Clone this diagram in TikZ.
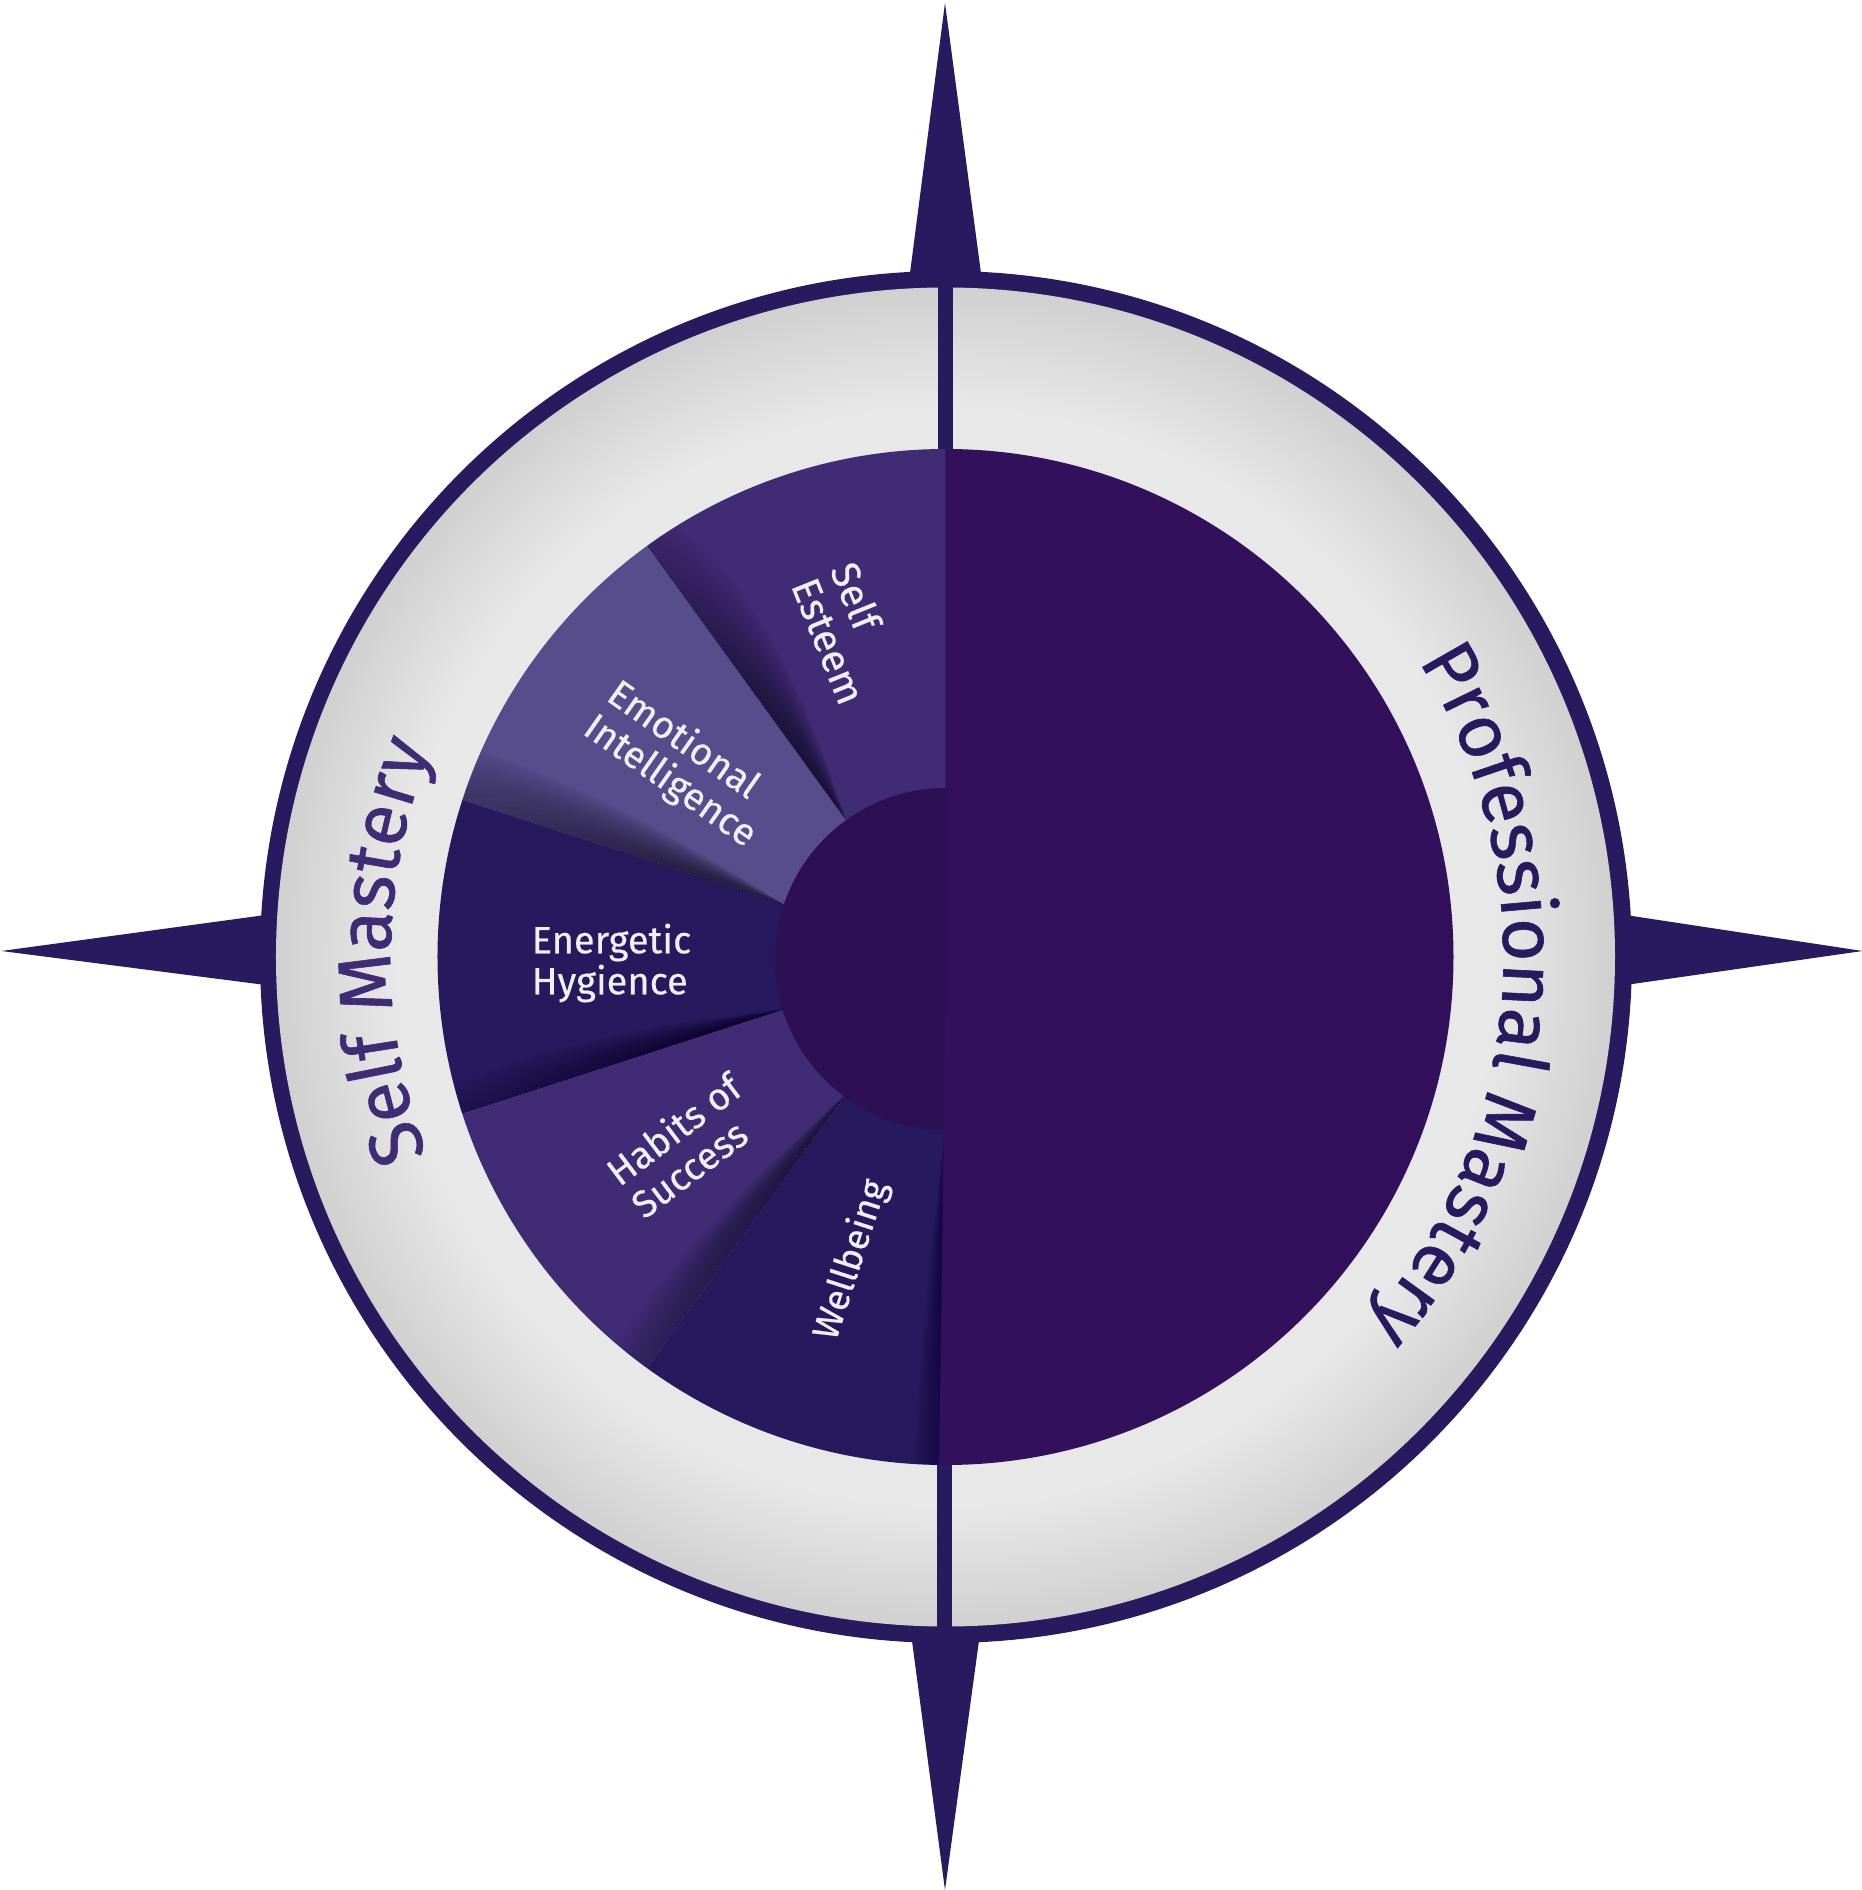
\documentclass[tikz,border=0pt]{standalone}
\usepackage{fontspec}
\setmainfont{Fira Sans}
\newfontfamily\lblfont[FakeBold=0.35]{Fira Sans}
\newfontfamily\arcfont[FakeBold=0.8]{Fira Sans}
\usetikzlibrary{decorations.text}
\definecolor{navy}{HTML}{271A5E}
\definecolor{wedgemid}{HTML}{402B75}
\definecolor{wedgelite}{HTML}{574C8C}
\definecolor{wedgedark}{HTML}{26195D}
\definecolor{halfright}{HTML}{33105C}
\definecolor{hubdark}{HTML}{2D0F55}
\definecolor{labelwhite}{HTML}{F0F0F2}
\definecolor{ringlight}{HTML}{E8E8E8}
\definecolor{ringdark}{HTML}{D0D0D0}
\pgfdeclareradialshading{ringshade}{\pgfpoint{0bp}{0bp}}{
  color(0bp)=(ringlight);
  color(20.5bp)=(ringlight);
  color(25bp)=(ringdark);
  color(100bp)=(ringdark)}
\tikzset{
  spike/.style={fill=navy,draw=none},
  wedgefill/.style={draw=none},
  smalllabel/.style={text=labelwhite,align=left,inner sep=0pt,font=\lblfont\fontsize{38}{41}\selectfont},
  arclabel/.style={decorate,decoration={text along path,text align=center}}
}
\newcommand{\wedgeshape}[3]{\fill[wedgefill,#3] (0,0) -- (#1:508) arc[start angle=#1,end angle=#2,radius=508] -- cycle;}
% edge angle, max angular width, opacity per layer, smallest and largest reach of the layers
\newcommand{\edgeshadow}[5]{%
  \begin{scope}
  \pgfmathsetmacro{\wa}{#1-36}
  \clip (0,0) -- (\wa:508) arc[start angle=\wa,end angle=#1,radius=508] -- cycle;
  \foreach \k in {1,...,24}{
    \pgfmathsetmacro{\dd}{#1-#2*\k/24}
    \pgfmathsetmacro{\rk}{#4+(#5-#4)*\k/24}
    \pgfmathsetmacro{\ra}{170+(\rk-170)*0.4}
    \pgfmathsetmacro{\rb}{170+(\rk-170)*0.8}
    \fill[black,fill opacity=#3] (#1:170) .. controls (\dd:\ra) and (\dd:\rb) .. (#1:\rk) -- cycle;
  }
  \end{scope}}
\begin{document}
\begin{tikzpicture}[x=1pt,y=1pt]
\useasboundingbox (-945.5,957) rectangle (915.5,-933);
% spikes
\fill[spike] (-0.5,954) -- (36,680) -- (-36,680) -- cycle;
\fill[spike] (-0.5,-933) -- (34,-680) -- (-34,-680) -- cycle;
\fill[spike] (-944,6) -- (-680,42) -- (-680,-28) -- cycle;
\fill[spike] (917,6) -- (680,42) -- (680,-28) -- cycle;
% ring
\fill[navy] (0.5,0) circle[radius=686];
\shade[shading=ringshade] (0,0) circle[radius=669.5];
% dividers
\fill[navy] (-7.5,0) rectangle (7.5,672);
\fill[navy] (-8.5,0) rectangle (6.5,-672);
% wedges
\wedgeshape{90}{126}{fill=wedgemid}
\wedgeshape{126}{162}{fill=wedgelite}
\wedgeshape{162}{198}{fill=wedgedark}
\wedgeshape{198}{234}{fill=wedgemid}
\wedgeshape{234}{271}{fill=wedgedark}
\edgeshadow{126}{9}{0.026}{220}{560}
\edgeshadow{162}{8}{0.026}{220}{700}
\edgeshadow{198}{6}{0.02}{250}{600}
\edgeshadow{234}{6.5}{0.022}{220}{640}
\edgeshadow{270}{4.5}{0.012}{300}{900}
% hub and right half
\fill[hubdark] (0.5,-2) circle[radius=171];
\begin{scope}
\clip (0.5,520) -- (0.5,0) -- (-6.5,-520) -- (520,-520) -- (520,520) -- cycle;
\fill[halfright] (0,0) circle[radius=508];
\end{scope}
% labels
\node[smalllabel,rotate=-68,font=\lblfont\fontsize{40}{42}\selectfont] (selfesteem) at (-97,324) {Self\\Esteem};
\node[smalllabel,rotate=-35] (emotional) at (-264,192) {Emotional\\Intelligence};
\node[smalllabel] (energetic) at (-334,-6) {Energetic\\Hygience};
\node[smalllabel,rotate=37] (habits) at (-260,-188) {Habits of\\Success};
\node[smalllabel,rotate=72,font=\lblfont\fontsize{37}{40}\selectfont] (wellbeing) at (-94,-303) {Wellbeing};
\path[arclabel,decoration={text={|\arcfont\color{wedgemid}\fontsize{75}{79}\selectfont|Self Mastery}}]
  (201.4:555) arc[start angle=201.4,end angle=157.4,radius=555];
\path[arclabel,decoration={text={|\arcfont\color{navy}\fontsize{75}{79}\selectfont|Professional Mastery}}]
  (32:558) arc[start angle=32,end angle=-41,radius=558];
\end{tikzpicture}
\end{document}
